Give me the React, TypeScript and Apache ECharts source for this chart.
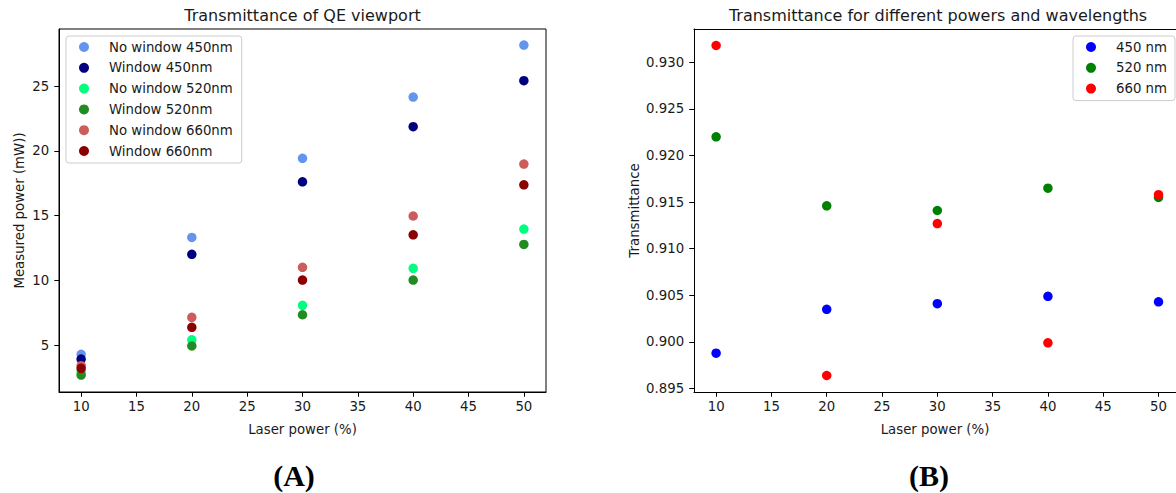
import React, { useEffect, useRef } from "react";
import * as echarts from "echarts";

const laserPower = [10, 20, 30, 40, 50];
const xTicks = [10, 15, 20, 25, 30, 35, 40, 45, 50];
const leftYTicks = [5, 10, 15, 20, 25];
const rightYTicks = [0.895, 0.9, 0.905, 0.91, 0.915, 0.92, 0.925, 0.93];

const noWindow450 = [4.31, 13.33, 19.43, 24.16, 28.17];
const window450 = [3.94, 12.02, 17.62, 21.87, 25.42];
const noWindow520 = [2.95, 5.43, 8.09, 10.94, 13.97];
const window520 = [2.71, 4.95, 7.36, 10.04, 12.79];
const noWindow660 = [3.43, 7.16, 11.02, 14.98, 18.99];
const window660 = [3.23, 6.39, 10.04, 13.53, 17.39];

const trans450 = [0.8988, 0.9035, 0.9041, 0.9049, 0.9043];
const trans520 = [0.922, 0.9146, 0.9141, 0.9165, 0.9155];
const trans660 = [0.9318, 0.8964, 0.9127, 0.8999, 0.9158];

const leftSeries = [
  { name: "No window 450nm", values: noWindow450, color: "#6495ED" },
  { name: "Window 450nm", values: window450, color: "#000080" },
  { name: "No window 520nm", values: noWindow520, color: "#00FF7F" },
  { name: "Window 520nm", values: window520, color: "#228B22" },
  { name: "No window 660nm", values: noWindow660, color: "#CD5C5C" },
  { name: "Window 660nm", values: window660, color: "#8B0000" },
];
const rightSeries = [
  { name: "450 nm", values: trans450, color: "#0000FF" },
  { name: "520 nm", values: trans520, color: "#008000" },
  { name: "660 nm", values: trans660, color: "#FF0000" },
];

const FONT = "DejaVu Sans";
const FS = 13.3;
const TXT = "#1a1a1a";

function xAxisCfg(gridIndex: number, max: number) {
  return {
    type: "value",
    gridIndex,
    min: 8,
    max,
    name: "Laser power (%)",
    nameLocation: "middle",
    nameGap: 31,
    nameTextStyle: { fontFamily: FONT, fontSize: FS, color: TXT },
    axisLine: { show: true, lineStyle: { color: "#000", width: 1 } },
    axisTick: { show: true, customValues: xTicks, length: 4.7, lineStyle: { color: "#000", width: 1 } },
    axisLabel: { customValues: xTicks, margin: 8, fontFamily: FONT, fontSize: FS, color: TXT },
    splitLine: { show: false },
  };
}

function yAxisCfg(gridIndex: number, min: number, max: number, ticks: number[], name: string, nameGap: number, digits: number) {
  return {
    type: "value",
    gridIndex,
    min,
    max,
    name,
    nameLocation: "middle",
    nameGap,
    nameTextStyle: { fontFamily: FONT, fontSize: FS, color: TXT },
    axisLine: { show: true, lineStyle: { color: "#000", width: 1 } },
    axisTick: { show: true, customValues: ticks, length: 4.7, lineStyle: { color: "#000", width: 1 } },
    axisLabel: {
      customValues: ticks,
      margin: 9.8,
      fontFamily: FONT,
      fontSize: FS,
      color: TXT,
      formatter: (v: number) => (digits > 0 ? v.toFixed(digits) : String(Math.round(v))),
    },
    splitLine: { show: false },
  };
}

function legendCfg(names: string[], left: number, padding: number[]) {
  return {
    orient: "vertical",
    left,
    top: 36,
    data: names,
    icon: "circle",
    itemWidth: 10,
    itemHeight: 10,
    itemGap: 6.8,
    padding,
    backgroundColor: "rgba(255,255,255,0.8)",
    borderColor: "#cccccc",
    borderWidth: 1,
    borderRadius: 3,
    textStyle: { fontFamily: FONT, fontSize: FS, color: TXT, lineHeight: 14, padding: [0, 0, 0, 15] },
  };
}

export default function App() {
  const ref = useRef<HTMLDivElement>(null);
  useEffect(() => {
    if (!ref.current) return;
    const chart = echarts.init(ref.current, null, { renderer: "svg" });
    const series: any[] = [];
    leftSeries.forEach((s) =>
      series.push({
        type: "scatter",
        name: s.name,
        xAxisIndex: 0,
        yAxisIndex: 0,
        symbolSize: 9.5,
        itemStyle: { color: s.color, opacity: 1 },
        data: laserPower.map((x, i) => [x, s.values[i]]),
      })
    );
    rightSeries.forEach((s) =>
      series.push({
        type: "scatter",
        name: s.name,
        xAxisIndex: 1,
        yAxisIndex: 1,
        symbolSize: 9.5,
        itemStyle: { color: s.color, opacity: 1 },
        data: laserPower.map((x, i) => [x, s.values[i]]),
      })
    );
    chart.setOption({
      animation: false,
      backgroundColor: "#fff",
      grid: [
        { left: 59, top: 29, width: 487, height: 363, show: true, borderColor: "#000", borderWidth: 1, backgroundColor: "transparent" },
        { left: 694, top: 29, right: 0, height: 363, show: false },
      ],
      xAxis: [
        xAxisCfg(0, 52),
        xAxisCfg(1, 51.58),
        {
          type: "value",
          gridIndex: 1,
          position: "top",
          min: 8,
          max: 51.58,
          axisLine: { show: true, onZero: false, lineStyle: { color: "#000", width: 1 } },
          axisTick: { show: false },
          axisLabel: { show: false },
          splitLine: { show: false },
        },
      ],
      yAxis: [
        yAxisCfg(0, 1.4, 29.41, leftYTicks, "Measured power (mW))", 33, 0),
        yAxisCfg(1, 0.89463, 0.93357, rightYTicks, "Transmittance", 53.5, 3),
      ],
      legend: [
        legendCfg(leftSeries.map((s) => s.name), 66, [4, 9, 5, 13]),
        legendCfg(rightSeries.map((s) => s.name), 1073, [4, 8, 5, 13]),
      ],
      graphic: [
        {
          type: "text",
          x: 302.5,
          y: 15.5,
          style: { text: "Transmittance of QE viewport", font: `16px "${FONT}"`, fill: TXT, textAlign: "center", textVerticalAlign: "middle" },
        },
        {
          type: "text",
          x: 938,
          y: 15.5,
          style: { text: "Transmittance for different powers and wavelengths", font: `16px "${FONT}"`, fill: TXT, textAlign: "center", textVerticalAlign: "middle" },
        },
        {
          type: "text",
          x: 294,
          y: 475,
          style: { text: "(A)", font: `bold 30px "Liberation Serif"`, fill: "#000", textAlign: "center", textVerticalAlign: "middle" },
        },
        {
          type: "text",
          x: 929,
          y: 475,
          style: { text: "(B)", font: `bold 30px "Liberation Serif"`, fill: "#000", textAlign: "center", textVerticalAlign: "middle" },
        },
      ],
      series,
    });
    return () => chart.dispose();
  }, []);
  return <div ref={ref} style={{ position: "fixed", left: 0, top: 0, width: 1176, height: 493 }} />;
}
